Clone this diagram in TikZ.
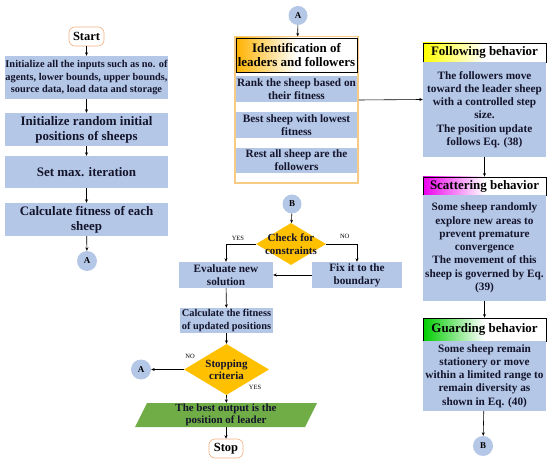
\documentclass[tikz,border=0pt]{standalone}
\usepackage{fontspec}
\setmainfont{Liberation Serif}
\usepackage{xcolor}
\usepackage{tikz}
\usetikzlibrary{arrows.meta, shapes.geometric}

\definecolor{boxblue}{HTML}{B4C7E7}
\definecolor{decgold}{HTML}{FFC000}
\definecolor{outgreen}{HTML}{70AD47}
\definecolor{framegold}{HTML}{F8CB85}
\definecolor{termpeach}{HTML}{F4B183}
\definecolor{inktext}{HTML}{14142B}

\begin{document}
\begin{tikzpicture}[x=1bp, y=-1bp,
    arr/.style={-{Stealth[length=3.5bp, width=3bp]}, line width=0.6bp},
    stepbox/.style={fill=boxblue, inner sep=0pt, align=center, text=inktext, font=\bfseries\fontsize{13}{15}\selectfont},
    smallbox/.style={stepbox, font=\bfseries\fontsize{11.3}{13.3}\selectfont},
    tinybox/.style={stepbox, font=\bfseries\fontsize{10.4}{12.5}\selectfont},
    term/.style={draw=termpeach, fill=white, rounded corners=6bp, line width=0.6bp, minimum width=35bp, minimum height=19bp, inner sep=0pt, font=\bfseries\fontsize{12.5}{14}\selectfont},
    connector/.style={circle, fill=boxblue, minimum size=20bp, inner sep=0pt, font=\bfseries\fontsize{9}{10}\selectfont},
    decision/.style={diamond, fill=decgold, inner sep=0pt},
    dectext/.style={align=center, text=inktext, inner sep=0pt, font=\bfseries\fontsize{11}{12.5}\selectfont},
    header/.style={draw, line width=0.8bp, left color=#1, right color=white, middle color=white, inner sep=0pt, minimum width=123bp, font=\bfseries\fontsize{13}{15}\selectfont},
    tag/.style={inner sep=1pt, font=\fontsize{6.5}{7}\selectfont}
]
    \useasboundingbox (0,0) rectangle (550,465);

    % Main loop
    \node (start) [term] at (86.5,36.5) {Start};
    \node (init) [tinybox, minimum width=163bp, minimum height=43bp] at (86.5,77.5) {Initialize all the inputs such as no. of\\agents, lower bounds, upper bounds,\\source data, load data and storage};
    \node (randpos) [stepbox, minimum width=163bp, minimum height=33bp] at (86.5,129.5) {Initialize random initial\\positions of sheeps};
    \node (maxiter) [stepbox, minimum width=163bp, minimum height=32bp] at (86.5,172) {Set max. iteration};
    \node (fitness) [stepbox, minimum width=163bp, minimum height=33bp] at (86.5,219.5) {Calculate fitness of each\\sheep};
    \node (conA1) [connector] at (87,261) {A};
    \draw[arr] (start) -- (init);
    \draw[arr] (init) -- (randpos);
    \draw[arr] (randpos) -- (maxiter);
    \draw[arr] (maxiter) -- (fitness);
    \draw[arr] (fitness) -- (conA1);

    % Leaders and followers
    \node (conA2) [connector, minimum size=19bp] at (298,15.5) {A};
    \node (frame) [draw=framegold, line width=1.2bp, fill=white, minimum width=123bp, minimum height=146bp] at (296.5,110) {};
    \node (ident) [header=orange!60!yellow, minimum width=121bp, minimum height=34bp, align=center] at (296.5,55) {Identification of\\leaders and followers};
    \node (rank) [smallbox, minimum width=121bp, minimum height=26bp] at (296.5,89) {Rank the sheep based on\\their fitness};
    \node (best) [smallbox, minimum width=121bp, minimum height=26bp] at (296.5,125) {Best sheep with lowest\\fitness};
    \node (rest) [smallbox, minimum width=121bp, minimum height=25bp] at (296.5,160.5) {Rest all sheep are the\\followers};
    \draw[arr] (conA2) -- (frame);

    % Behaviors
    \node (followh) [header=yellow, minimum height=19bp] at (484.5,52.5) {Following behavior};
    \node (follow) [smallbox, minimum width=123bp, minimum height=95bp] at (484.5,109.5) {The followers move\\toward the leader sheep\\with a controlled step\\size.\\The position update\\follows Eq. (38)};
    \node (scath) [header=magenta!85!violet, minimum height=18bp] at (484.5,186) {Scattering behavior};
    \node (scat) [smallbox, minimum width=123bp, minimum height=106bp] at (484.5,248) {Some sheep randomly\\explore new areas to\\prevent premature\\convergence\\The movement of this\\sheep is governed by Eq.\\(39)};
    \node (guardh) [header=green!80!black, minimum height=23bp] at (484.5,329.5) {Guarding behavior};
    \node (guard) [smallbox, minimum width=123bp, minimum height=70bp] at (484.5,376) {Some sheep remain\\stationery or move\\within a limited range to\\remain diversity as\\shown in Eq. (40)};
    \node (conB1) [connector] at (483,446) {B};
    \draw[arr] ([yshift=10bp]frame.east) -- ([yshift=10bp]follow.west);
    \draw[arr] (follow) -- (scath);
    \draw[arr] (scat) -- (guardh);
    \draw[arr] (guard) -- (conB1);

    % Update and stopping
    \node (conB2) [connector, minimum size=19bp] at (292,204) {B};
    \node (check) [decision, minimum width=70bp, minimum height=42bp] at (291,244) {};
    \node (checkt) [dectext] at (check) {Check for\\constraints};
    \node (eval) [smallbox, minimum width=94bp, minimum height=26bp] at (226,275) {Evaluate new\\solution};
    \node (fix) [smallbox, minimum width=90bp, minimum height=26bp] at (357,275) {Fix it to the\\boundary};
    \node (calc) [tinybox, minimum width=93bp, minimum height=25bp] at (226.5,320.5) {Calculate the fitness\\of updated positions};
    \node (stopc) [decision, minimum width=85bp, minimum height=51bp] at (226.5,369.5) {};
    \node (stopct) [dectext] at (stopc) {Stopping\\criteria};
    \node (conA3) [connector] at (141,369.5) {A};
    \fill[outgreen] (147,403) -- (317,403) -- (305,427) -- (135,427) -- cycle;
    \node (output) [dectext, minimum width=170bp, minimum height=24bp, font=\bfseries\fontsize{11}{12.5}\selectfont] at (226,415) {The best output is the\\position of leader};
    \node (stop) [term, minimum width=34bp] at (226,448.5) {Stop};
    \node (yesB) [tag] at (255,387) {YES};
    \node (noB) [tag] at (190,356) {NO};
    \draw[arr] (conB2) -- (check);
    \draw[arr] (check.west) -| node[tag, pos=0.3, above=2bp] {YES} (eval.north);
    \draw[arr] (check.east) -| node[tag, pos=0.3, above=4bp] {NO} (fix.north);
    \draw[arr] (fix) -- (eval);
    \draw[arr] (eval) -- (calc);
    \draw[arr] (calc) -- (stopc);
    \draw[arr] (stopc.west) -- (conA3);
    \draw[arr] (stopc.south) -- (output);
    \draw[arr] (output) -- (stop);
\end{tikzpicture}
\end{document}
